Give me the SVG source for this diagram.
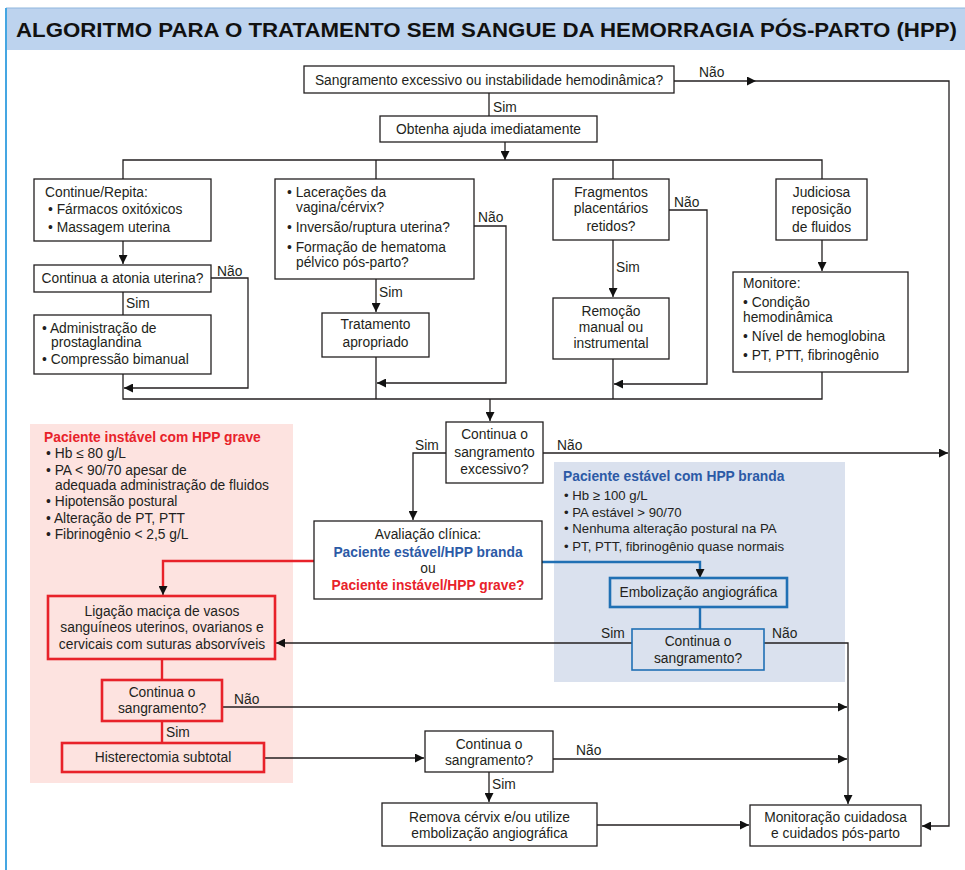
<svg xmlns="http://www.w3.org/2000/svg" width="965" height="870" viewBox="0 0 965 870">
<defs>
<marker id="ah" viewBox="0 0 9 9" refX="9" refY="4.5" markerWidth="9" markerHeight="9" markerUnits="userSpaceOnUse" orient="auto"><path d="M0,0 L9,4.5 L0,9 z" fill="#111"/></marker>
<style>
text{font-family:"Liberation Sans",Arial,sans-serif;font-size:13.8px;fill:#231f20}
.c{text-anchor:middle}
.b{font-weight:bold}
.red{fill:#e8222a}
.blu{fill:#2c5aa6}
.box{fill:#fff;stroke:#231f20;stroke-width:1.3}
.rbox{fill:none;stroke:#e8222a;stroke-width:2.6}
.bbox{fill:none;stroke:#2070b4;stroke-width:1.6}
.bbox2{fill:none;stroke:#2070b4;stroke-width:2.6}
.ln{fill:none;stroke:#231f20;stroke-width:1.3}
.arr{marker-end:url(#ah)}
.rl{fill:none;stroke:#e8222a;stroke-width:2.4}
.bl{fill:none;stroke:#2070b4;stroke-width:2.4}
</style>
</defs>
<rect x="0" y="0" width="965" height="870" fill="#fff"/>
<g id="header">
<rect x="6" y="8" width="960" height="42" fill="#bdd3ee"/>
<line x1="6" y1="8" x2="965" y2="8" stroke="#8fb6dd" stroke-width="1"/>
<line x1="6" y1="8" x2="6" y2="870" stroke="#45a6e2" stroke-width="2"/>
<text x="16" y="37" class="b" style="font-size:21px;fill:#111" textLength="941" lengthAdjust="spacingAndGlyphs">ALGORITMO PARA O TRATAMENTO SEM SANGUE DA HEMORRAGIA PÓS-PARTO (HPP)</text>
</g>
<g id="panel-grave">
<rect x="30" y="424" width="263" height="359" fill="#fde3e0"/>
<text x="44" y="442" class="b red">Paciente instável com HPP grave</text>
<text x="46" y="458">• Hb ≤ 80 g/L</text>
<text x="46" y="474.5">• PA &lt; 90/70 apesar de</text>
<text x="55" y="490">adequada administração de fluidos</text>
<text x="46" y="506">• Hipotensão postural</text>
<text x="46" y="523">• Alteração de PT, PTT</text>
<text x="46" y="539">• Fibrinogênio &lt; 2,5 g/L</text>
</g>
<g id="panel-branda">
<rect x="554" y="462" width="291" height="220" fill="#dae1ee"/>
<text x="563" y="481" class="b blu">Paciente estável com HPP branda</text>
<text x="564" y="500" style="font-size:13.2px">• Hb ≥ 100 g/L</text>
<text x="564" y="517" style="font-size:13.2px">• PA estável &gt; 90/70</text>
<text x="564" y="533" style="font-size:13.2px">• Nenhuma alteração postural na PA</text>
<text x="564" y="551" style="font-size:13.2px">• PT, PTT, fibrinogênio quase normais</text>
</g>
<g id="connectors">
<path class="ln" d="M489,93 V116"/>
<path class="ln arr" d="M674,81 H756"/>
<path class="ln arr" d="M756,81 H949 V826 H922"/>
<path class="ln arr" d="M505,142 V160"/>
<path class="ln" d="M123,179 V160 H822 V179 M376,160 V179 M613,160 V179"/>
<path class="ln arr" d="M123,241 V264"/>
<path class="ln" d="M123,292 V315"/>
<path class="ln arr" d="M211,278 H248 V388 H124"/>
<path class="ln arr" d="M376,279 V312"/>
<path class="ln arr" d="M474,226 H506 V383 H377"/>
<path class="ln arr" d="M613,240 V297"/>
<path class="ln arr" d="M669,210 H707 V384 H614"/>
<path class="ln arr" d="M822,240 V271"/>
<path class="ln" d="M123,374 V399 H822 V372 M376,357 V399 M613,359 V399"/>
<path class="ln arr" d="M490,399 V421"/>
<path class="ln arr" d="M446,453 H413 V520"/>
<path class="ln arr" d="M543,453 H948"/>
<path class="rl" d="M314,561 H163 V588"/>
<path class="ln arr" d="M163,586 V595"/>
<path class="bl" d="M542,562 H700 V572"/>
<path class="ln arr" d="M700,570 V578"/>
<path class="bl" d="M700,607 V629"/>
<path class="ln arr" d="M632,643 H276"/>
<path class="ln arr" d="M764,643 H848 V804"/>
<path class="rl" d="M162,659 V680 M162,721 V743"/>
<path class="ln arr" d="M222,707 H847"/>
<path class="ln arr" d="M264,758 H424"/>
<path class="ln arr" d="M553,759 H847"/>
<path class="ln arr" d="M489,772 V802"/>
<path class="ln arr" d="M597,825 H749"/>
</g>
<g id="q-sangramento">
<rect class="box" x="304" y="66" width="370" height="27"/>
<text x="489" y="85" class="c">Sangramento excessivo ou instabilidade hemodinâmica?</text>
</g>
<g id="labels">
<text x="699" y="77">Não</text>
<text x="493" y="112">Sim</text>
<text x="217" y="276">Não</text>
<text x="126" y="308">Sim</text>
<text x="478" y="222">Não</text>
<text x="379" y="297">Sim</text>
<text x="674" y="207">Não</text>
<text x="616" y="272">Sim</text>
<text x="415" y="450">Sim</text>
<text x="557" y="450">Não</text>
<text x="601" y="638">Sim</text>
<text x="772" y="638">Não</text>
<text x="234" y="704">Não</text>
<text x="166" y="737">Sim</text>
<text x="576" y="755">Não</text>
<text x="492" y="789">Sim</text>
</g>
<g id="ajuda">
<rect class="box" x="380" y="116" width="217" height="26"/>
<text x="488.5" y="134" class="c">Obtenha ajuda imediatamente</text>
</g>
<g id="continue-repita">
<rect class="box" x="34" y="179" width="177" height="62"/>
<text x="45" y="197">Continue/Repita:</text>
<text x="48" y="214">• Fármacos oxitóxicos</text>
<text x="48" y="232">• Massagem uterina</text>
</g>
<g id="q-atonia">
<rect class="box" x="34" y="265" width="177" height="27"/>
<text x="122.5" y="283" class="c">Continua a atonia uterina?</text>
</g>
<g id="prostaglandina">
<rect class="box" x="34" y="315" width="177" height="59"/>
<text x="42" y="333">• Administração de</text>
<text x="51" y="347">prostaglandina</text>
<text x="42" y="364">• Compressão bimanual</text>
</g>
<g id="q-laceracoes">
<rect class="box" x="275" y="179" width="199" height="100"/>
<text x="287" y="197">• Lacerações da</text>
<text x="296" y="212">vagina/cérvix?</text>
<text x="287" y="232">• Inversão/ruptura uterina?</text>
<text x="287" y="252">• Formação de hematoma</text>
<text x="296" y="267">pélvico pós-parto?</text>
</g>
<g id="tratamento">
<rect class="box" x="322" y="313" width="107" height="44"/>
<text x="375.5" y="329" class="c">Tratamento</text>
<text x="375.5" y="347" class="c">apropriado</text>
</g>
<g id="q-fragmentos">
<rect class="box" x="553" y="179" width="116" height="61"/>
<text x="611" y="197" class="c">Fragmentos</text>
<text x="611" y="213" class="c">placentários</text>
<text x="611" y="231" class="c">retidos?</text>
</g>
<g id="remocao">
<rect class="box" x="553" y="298" width="116" height="61"/>
<text x="611" y="316" class="c">Remoção</text>
<text x="611" y="332" class="c">manual ou</text>
<text x="611" y="348" class="c">instrumental</text>
</g>
<g id="fluidos">
<rect class="box" x="776" y="179" width="91" height="61"/>
<text x="821.5" y="197" class="c">Judiciosa</text>
<text x="821.5" y="214" class="c">reposição</text>
<text x="821.5" y="232" class="c">de fluidos</text>
</g>
<g id="monitore">
<rect class="box" x="733" y="272" width="175" height="100"/>
<text x="743" y="288">Monitore:</text>
<text x="743" y="307">• Condição</text>
<text x="743" y="322">hemodinâmica</text>
<text x="743" y="341">• Nível de hemoglobina</text>
<text x="743" y="360">• PT, PTT, fibrinogênio</text>
</g>
<g id="q-excessivo">
<rect class="box" x="446" y="422" width="97" height="61"/>
<text x="494.5" y="439" class="c">Continua o</text>
<text x="494.5" y="457" class="c">sangramento</text>
<text x="494.5" y="474" class="c">excessivo?</text>
</g>
<g id="avaliacao">
<rect class="box" x="314" y="521" width="228" height="78"/>
<text x="428" y="539" class="c">Avaliação clínica:</text>
<text x="428" y="557" class="c b blu">Paciente estável/HPP branda</text>
<text x="428" y="573" class="c">ou</text>
<text x="428" y="590" class="c b red">Paciente instável/HPP grave?</text>
</g>
<g id="embolizacao">
<rect class="bbox2" x="610" y="578" width="177" height="29"/>
<text x="698.5" y="597" class="c">Embolização angiográfica</text>
</g>
<g id="q-sangramento-branda">
<rect class="bbox" x="632" y="629" width="132" height="41"/>
<text x="698" y="646" class="c">Continua o</text>
<text x="698" y="663" class="c">sangramento?</text>
</g>
<g id="ligacao">
<rect class="rbox" x="48" y="596" width="227" height="63"/>
<text x="162" y="616" class="c">Ligação maciça de vasos</text>
<text x="162" y="632" class="c">sanguíneos uterinos, ovarianos e</text>
<text x="162" y="649" class="c">cervicais com suturas absorvíveis</text>
</g>
<g id="q-sangramento-grave">
<rect class="rbox" x="102" y="680" width="120" height="41"/>
<text x="162" y="697" class="c">Continua o</text>
<text x="162" y="713" class="c">sangramento?</text>
</g>
<g id="histerectomia">
<rect class="rbox" x="62" y="743" width="202" height="29"/>
<text x="163" y="762" class="c">Histerectomia subtotal</text>
</g>
<g id="q-sangramento-final">
<rect class="box" x="425" y="731" width="128" height="41"/>
<text x="489" y="749" class="c">Continua o</text>
<text x="489" y="765" class="c">sangramento?</text>
</g>
<g id="remova">
<rect class="box" x="382" y="803" width="215" height="43"/>
<text x="489.5" y="822" class="c">Remova cérvix e/ou utilize</text>
<text x="489.5" y="838" class="c">embolização angiográfica</text>
</g>
<g id="monitoracao">
<rect class="box" x="750" y="805" width="171" height="41"/>
<text x="835.5" y="822" class="c">Monitoração cuidadosa</text>
<text x="835.5" y="838" class="c">e cuidados pós-parto</text>
</g>
</svg>
